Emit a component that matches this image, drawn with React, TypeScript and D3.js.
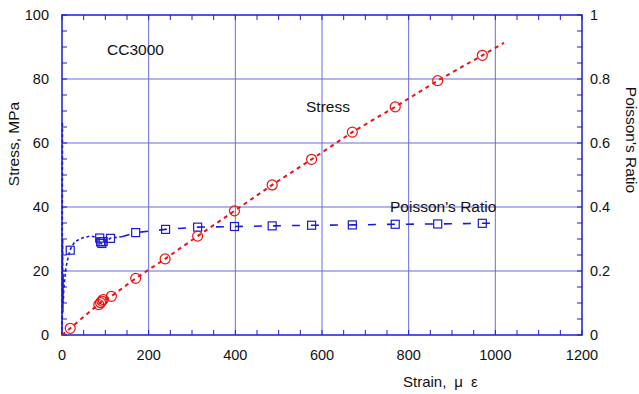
import React from "react";
import * as d3 from "d3";

// Stress–strain and Poisson's ratio readings for specimen CC3000
const stressMarkerStrain = [19, 85, 89, 92, 95, 114, 170, 238, 313, 398, 485, 576, 670, 769, 867, 970];
const stressMarkerValue = [2.1, 9.5, 10.1, 10.6, 11.1, 12.1, 17.7, 23.8, 30.9, 38.8, 46.9, 54.9, 63.4, 71.3, 79.5, 87.4];

const stressCurveStrain = [0, 19, 90, 114, 170, 238, 313, 398, 485, 576, 670, 769, 867, 970, 1020];
const stressCurveValue = [0, 2.1, 10.3, 12.1, 17.7, 23.8, 30.9, 38.8, 46.9, 54.9, 63.4, 71.3, 79.5, 87.4, 91.3];

const poissonMarkerStrain = [19, 87, 89, 92, 95, 112, 170, 239, 313, 398, 485, 576, 670, 769, 867, 970];
const poissonMarkerValue = [0.265, 0.303, 0.291, 0.286, 0.292, 0.302, 0.32, 0.33, 0.337, 0.339, 0.341, 0.343, 0.344, 0.346, 0.347, 0.349];

const poissonCurveStrain = [0, 1, 0.5, 1.5, 2, 2.5, 3, 4, 6, 8.5, 12, 14.5, 18.5, 24, 30, 36, 41.5, 47, 53, 59, 65, 71, 76, 82, 87, 90, 93, 99, 105, 111, 125, 138, 170, 239, 313, 398, 485, 576, 670, 769, 867, 970, 1003];
const poissonCurveValue = [0, 0.666, 0.02, 0.3, 0.07, 0.19, 0.1, 0.14, 0.17, 0.205, 0.23, 0.245, 0.265, 0.28, 0.292, 0.296, 0.3, 0.303, 0.306, 0.307, 0.309, 0.308, 0.306, 0.302, 0.297, 0.286, 0.284, 0.29, 0.296, 0.302, 0.305, 0.307, 0.32, 0.33, 0.337, 0.339, 0.341, 0.343, 0.344, 0.346, 0.347, 0.349, 0.349];

const xTicks = [0, 200, 400, 600, 800, 1000, 1200];
const yLeftTicks = [0, 20, 40, 60, 80, 100];
const yRightTicks = [0, 0.2, 0.4, 0.6, 0.8, 1];

const W = 639;
const H = 394;
const M = { left: 62, right: 582, top: 15, bottom: 335 };

const AXIS = "#1c1cd2";
const GRID = "#6a6ae6";
const RED = "#ee1111";
const BLUE = "#1a1ad8";
const FONT = "'Liberation Sans', Arial, sans-serif";

export default function App() {
  const x = d3.scaleLinear().domain([0, 1200]).range([M.left, M.right]);
  const yL = d3.scaleLinear().domain([0, 100]).range([M.bottom, M.top]);
  const yR = d3.scaleLinear().domain([0, 1]).range([M.bottom, M.top]);

  const stressLine = d3
    .line<number>()
    .x((_, i) => x(stressCurveStrain[i]))
    .y((v) => yL(v));

  const poissonPts = poissonCurveStrain.map((s, i) => [s, poissonCurveValue[i]] as [number, number]);
  const splitAt = poissonCurveStrain.indexOf(138);
  const poissonLine = d3
    .line<[number, number]>()
    .x((d) => x(d[0]))
    .y((d) => yR(d[1]));

  const minorX = d3.range(0, 1201, 50);
  const minorY = d3.range(0, 101, 5);

  return (
    <svg
      width={W}
      height={H}
      style={{ position: "absolute", left: 0, top: 0, background: "#fff" }}
      fontFamily={FONT}
    >
      {/* grid */}
      {xTicks.slice(1, -1).map((t) => (
        <line key={"gx" + t} x1={x(t)} x2={x(t)} y1={M.top} y2={M.bottom} stroke={GRID} strokeWidth={1} />
      ))}
      {yLeftTicks.slice(1, -1).map((t) => (
        <line key={"gy" + t} x1={M.left} x2={M.right} y1={yL(t)} y2={yL(t)} stroke={GRID} strokeWidth={1.2} />
      ))}

      {/* minor ticks */}
      {minorX.map((t) => (
        <g key={"mx" + t}>
          <line x1={x(t)} x2={x(t)} y1={M.bottom} y2={M.bottom - 5} stroke={AXIS} strokeWidth={1} />
          <line x1={x(t)} x2={x(t)} y1={M.top} y2={M.top + 5} stroke={AXIS} strokeWidth={1} />
        </g>
      ))}
      {minorY.map((t) => (
        <g key={"my" + t}>
          <line x1={M.left} x2={M.left + 5} y1={yL(t)} y2={yL(t)} stroke={AXIS} strokeWidth={1} />
          <line x1={M.right} x2={M.right - 5} y1={yL(t)} y2={yL(t)} stroke={AXIS} strokeWidth={1} />
        </g>
      ))}

      {/* frame */}
      <rect
        x={M.left}
        y={M.top}
        width={M.right - M.left}
        height={M.bottom - M.top}
        fill="none"
        stroke={AXIS}
        strokeWidth={1.5}
      />

      {/* Poisson's ratio curve */}
      <path
        d={poissonLine(poissonPts.slice(0, splitAt + 1)) || ""}
        fill="none"
        stroke={BLUE}
        strokeWidth={1.6}
        strokeDasharray="3,2.5"
      />
      <path
        d={poissonLine(poissonPts.slice(splitAt)) || ""}
        fill="none"
        stroke={BLUE}
        strokeWidth={1.6}
        strokeDasharray="8,11"
      />
      {poissonMarkerStrain.map((s, i) => (
        <rect
          key={"ps" + i}
          x={x(s) - 4}
          y={yR(poissonMarkerValue[i]) - 4}
          width={8}
          height={8}
          fill="none"
          stroke={BLUE}
          strokeWidth={1.2}
        />
      ))}

      {/* stress curve */}
      <path
        d={stressLine(stressCurveValue) || ""}
        fill="none"
        stroke={RED}
        strokeWidth={2}
        strokeDasharray="4,4"
      />
      {stressMarkerStrain.map((s, i) => (
        <circle
          key={"sc" + i}
          cx={x(s)}
          cy={yL(stressMarkerValue[i])}
          r={5}
          fill="none"
          stroke={RED}
          strokeWidth={1.2}
        />
      ))}

      {/* tick labels */}
      {xTicks.map((t) => (
        <text key={"tx" + t} x={x(t)} y={360} textAnchor="middle" fontSize={14.5} fill="#111">
          {t}
        </text>
      ))}
      {yLeftTicks.map((t) => (
        <text key={"tl" + t} x={49} y={yL(t) + 5} textAnchor="end" fontSize={14.5} fill="#111">
          {t}
        </text>
      ))}
      {yRightTicks.map((t) => (
        <text key={"tr" + t} x={590} y={yR(t) + 5} textAnchor="start" fontSize={14.5} fill="#111">
          {t}
        </text>
      ))}

      {/* axis titles */}
      <text
        transform={`translate(19,144) rotate(-90)`}
        textAnchor="middle"
        fontSize={15.5}
        fill="#111"
      >
        Stress, MPa
      </text>
      <text
        transform={`translate(626,140) rotate(90)`}
        textAnchor="middle"
        fontSize={15.5}
        fill="#111"
      >
        Poisson's Ratio
      </text>
      <text x={403} y={387} fontSize={15} fill="#111">
        Strain,
        <tspan dx={8}>μ</tspan>
        <tspan dx={8}>ε</tspan>
      </text>

      {/* annotations */}
      <text x={107} y={55} fontSize={15.5} fill="#111">
        CC3000
      </text>
      <text x={306} y={112} fontSize={15.5} fill="#111">
        Stress
      </text>
      <text x={390} y={212} fontSize={15.5} fill="#111">
        Poisson's Ratio
      </text>
    </svg>
  );
}
